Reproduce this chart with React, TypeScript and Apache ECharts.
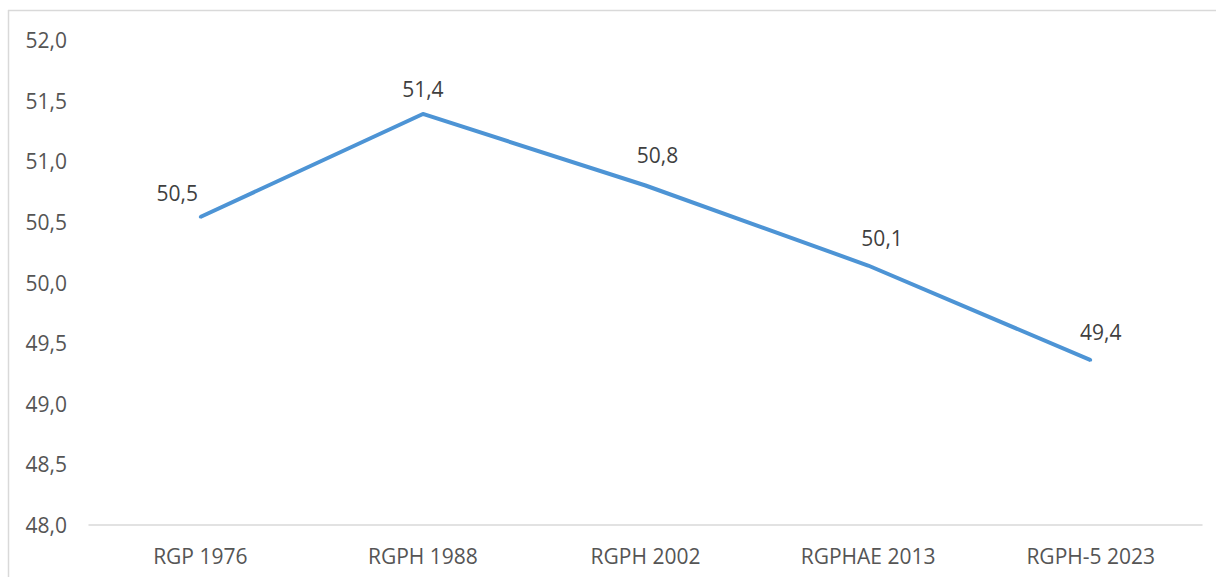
import React, { useEffect, useRef } from "react";
import * as echarts from "echarts";

const categories = ["RGP 1976", "RGPH 1988", "RGPH 2002", "RGPHAE 2013", "RGPH-5 2023"];
const values = [50.54, 51.39, 50.8, 50.14, 49.36];
const labelOffsets = [[-23, -13], [0, -13], [12, -19], [14, -16], [10, -17]];
const yMin = 48;
const yMax = 52;
const yStep = 0.5;

const fmt = (v: number) => v.toFixed(1).replace(".", ",");

export default function App() {
  const ref = useRef<HTMLDivElement>(null);
  useEffect(() => {
    if (!ref.current) return;
    const chart = echarts.init(ref.current, null, { renderer: "svg" });
    const font = "'Open Sans', 'Noto Sans', sans-serif";
    chart.setOption({
      animation: false,
      backgroundColor: "#ffffff",
      grid: { left: 89, right: 14, top: 40, bottom: 52, containLabel: false },
      graphic: [
        { type: "line", shape: { x1: 8, y1: 10.5, x2: 1216, y2: 10.5 }, style: { stroke: "#d9d9d9", lineWidth: 1.5 }, silent: true },
        { type: "line", shape: { x1: 8.5, y1: 10, x2: 8.5, y2: 577 }, style: { stroke: "#d9d9d9", lineWidth: 1.5 }, silent: true },
      ],
      xAxis: {
        type: "category",
        data: categories,
        boundaryGap: true,
        axisLine: { show: true, lineStyle: { color: "#d9d9d9", width: 1.5 } },
        axisTick: { show: false },
        axisLabel: { color: "#555555", fontSize: 21, fontFamily: font, margin: 21, lineHeight: 20 },
        splitLine: { show: false },
      },
      yAxis: {
        type: "value",
        min: yMin,
        max: yMax,
        interval: yStep,
        axisLine: { show: false },
        axisTick: { show: false },
        splitLine: { show: false },
        axisLabel: {
          color: "#555555",
          fontSize: 21,
          fontFamily: font,
          margin: 22,
          formatter: (v: number) => fmt(v),
        },
      },
      series: [
        {
          type: "line",
          data: values.map((v, i) => ({
            value: v,
            label: { offset: labelOffsets[i] },
          })),
          showSymbol: true,
          symbol: "circle",
          symbolSize: 3,
          lineStyle: { color: "#4D94D5", width: 4 },
          itemStyle: { color: "#4D94D5", borderWidth: 0 },
          label: {
            show: true,
            position: "top",
            distance: 0,
            color: "#3f3f3f",
            fontSize: 21,
            lineHeight: 20,
            fontFamily: font,
            formatter: (p: any) => fmt(p.value),
          },
        },
      ],
    });
    return () => chart.dispose();
  }, []);
  return (
    <div
      ref={ref}
      style={{ position: "fixed", left: 0, top: 0, width: 1216, height: 577, background: "#fff" }}
    />
  );
}
